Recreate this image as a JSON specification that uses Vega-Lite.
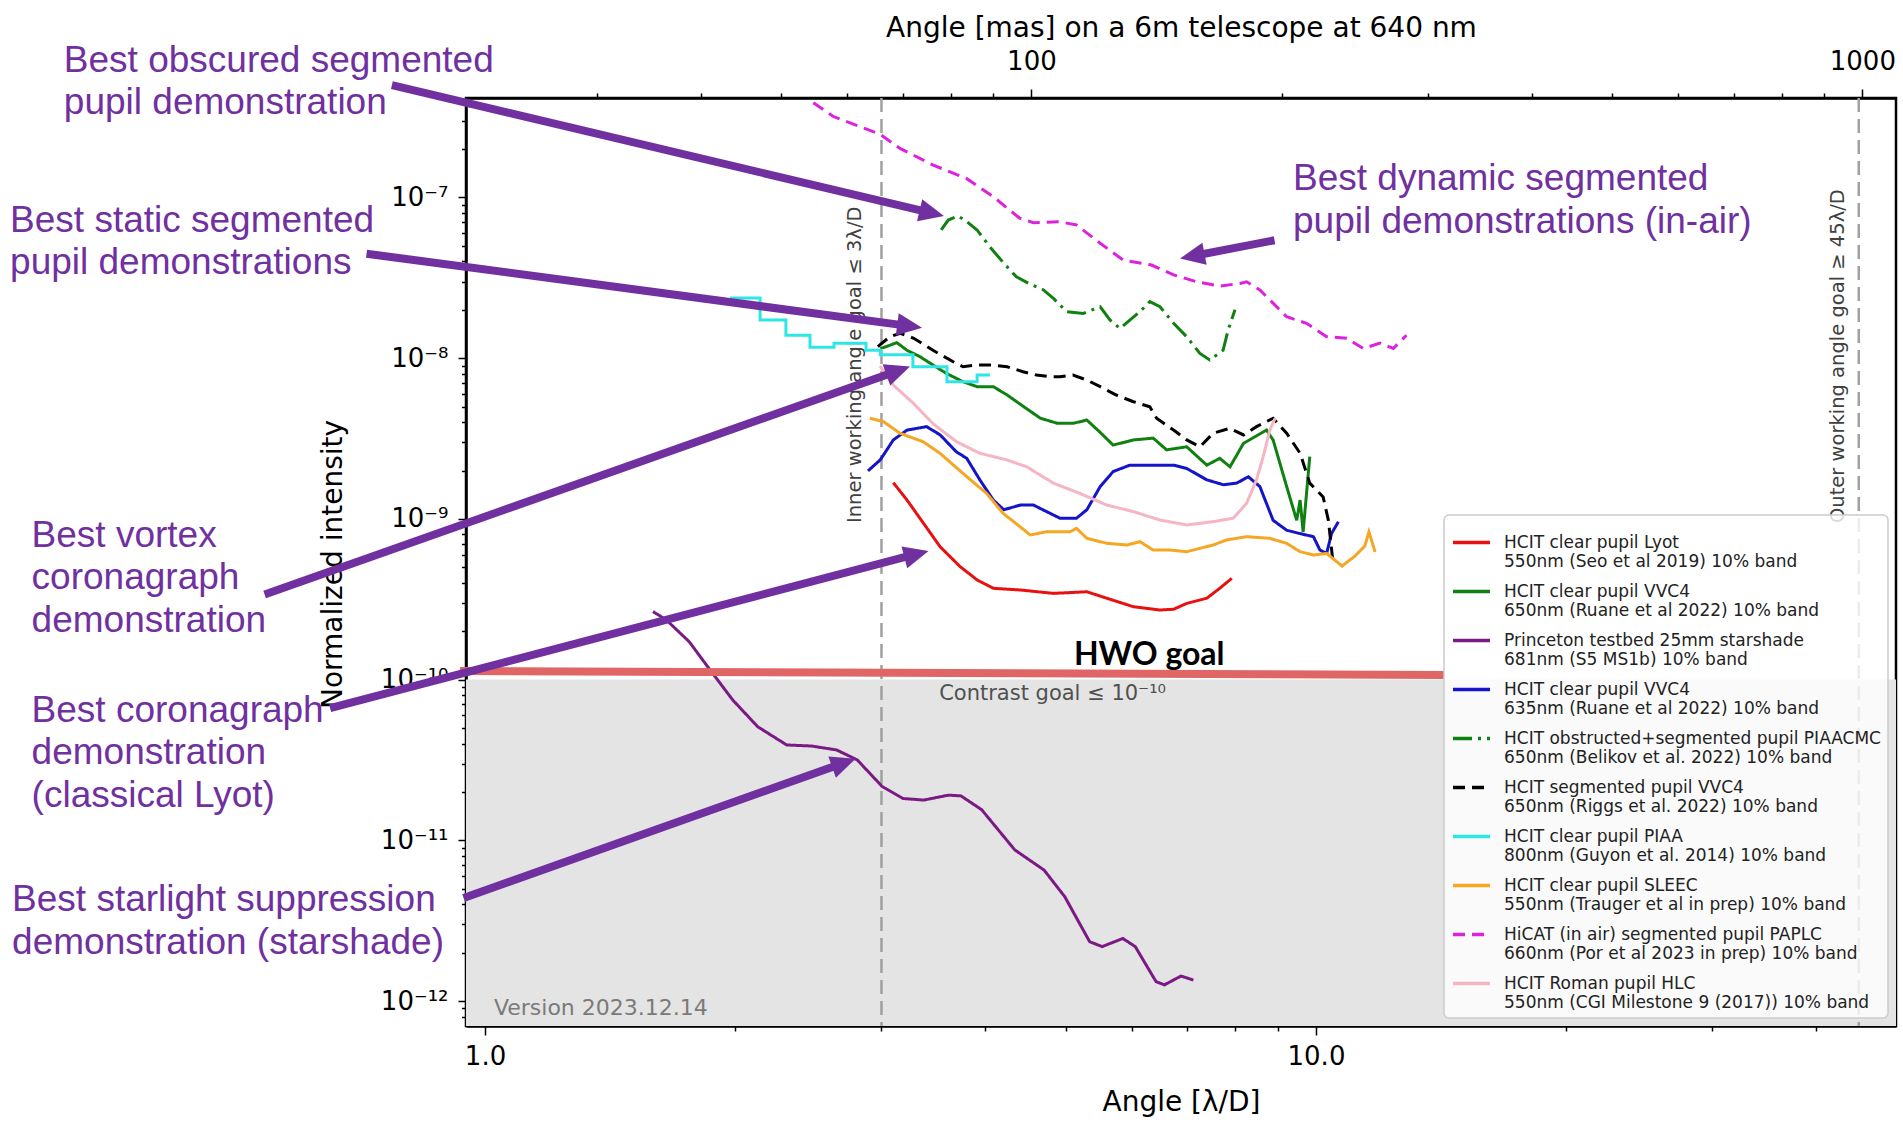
{
  "$schema": "https://vega.github.io/schema/vega-lite/v6.json",
  "width": 1430,
  "height": 928,
  "autosize": {"type": "none"},
  "padding": {"left": 466, "top": 98, "right": 7, "bottom": 98},
  "background": "white",
  "config": {
    "view": {"stroke": "black", "strokeWidth": 2.5},
    "font": "DejaVu Sans",
    "axis": {"grid": false, "domainColor": "black", "domainWidth": 2.5, "tickColor": "black", "tickWidth": 1.5, "labelColor": "black", "titleColor": "black", "labelFont": "DejaVu Sans", "titleFont": "DejaVu Sans", "labelFontSize": 26, "titleFontSize": 28, "titleFontWeight": "normal", "labelOverlap": false, "labelFlush": false, "labelBound": false},
    "legend": {"orient": "bottom-right", "offset": 8, "padding": 7, "fillColor": "rgba(255,255,255,0.8)", "strokeColor": "#cccccc", "strokeWidth": 1.5, "cornerRadius": 5, "symbolType": "stroke", "symbolSize": 1369, "symbolStrokeWidth": 3.5, "labelFont": "DejaVu Sans", "labelFontSize": 17, "labelColor": "#222222", "labelLimit": 1000, "labelOffset": 12, "rowPadding": 1, "labelBaseline": "middle"}
  },
  "datasets": {
    "curves": [
      {"s":"Lyot","x":3.10,"y":1.68e-9},{"s":"Lyot","x":3.22,"y":1.31e-9},{"s":"Lyot","x":3.37,"y":9.4e-10},{"s":"Lyot","x":3.53,"y":6.7e-10},{"s":"Lyot","x":3.73,"y":5.05e-10},{"s":"Lyot","x":3.91,"y":4.17e-10},{"s":"Lyot","x":4.09,"y":3.7e-10},{"s":"Lyot","x":4.41,"y":3.61e-10},{"s":"Lyot","x":4.83,"y":3.44e-10},{"s":"Lyot","x":5.30,"y":3.52e-10},{"s":"Lyot","x":5.60,"y":3.21e-10},{"s":"Lyot","x":6.03,"y":2.84e-10},{"s":"Lyot","x":6.49,"y":2.71e-10},{"s":"Lyot","x":6.74,"y":2.74e-10},{"s":"Lyot","x":6.99,"y":2.98e-10},{"s":"Lyot","x":7.39,"y":3.21e-10},{"s":"Lyot","x":7.66,"y":3.7e-10},{"s":"Lyot","x":7.92,"y":4.27e-10},
      {"s":"VVC4-650","x":2.99,"y":1.15e-8},{"s":"VVC4-650","x":3.04,"y":1.18e-8},{"s":"VVC4-650","x":3.13,"y":1.25e-8},{"s":"VVC4-650","x":3.22,"y":1.12e-8},{"s":"VVC4-650","x":3.34,"y":1.02e-8},{"s":"VVC4-650","x":3.46,"y":9.07e-9},{"s":"VVC4-650","x":3.59,"y":8.05e-9},{"s":"VVC4-650","x":3.76,"y":7.14e-9},{"s":"VVC4-650","x":3.91,"y":6.65e-9},{"s":"VVC4-650","x":4.09,"y":6.65e-9},{"s":"VVC4-650","x":4.25,"y":5.9e-9},{"s":"VVC4-650","x":4.45,"y":4.99e-9},{"s":"VVC4-650","x":4.66,"y":4.23e-9},{"s":"VVC4-650","x":4.88,"y":3.94e-9},{"s":"VVC4-650","x":5.11,"y":3.94e-9},{"s":"VVC4-650","x":5.30,"y":4.12e-9},{"s":"VVC4-650","x":5.50,"y":3.45e-9},{"s":"VVC4-650","x":5.70,"y":2.88e-9},{"s":"VVC4-650","x":6.03,"y":3.10e-9},{"s":"VVC4-650","x":6.37,"y":3.18e-9},{"s":"VVC4-650","x":6.61,"y":2.69e-9},{"s":"VVC4-650","x":6.99,"y":2.81e-9},{"s":"VVC4-650","x":7.39,"y":2.16e-9},{"s":"VVC4-650","x":7.66,"y":2.38e-9},{"s":"VVC4-650","x":7.88,"y":2.11e-9},{"s":"VVC4-650","x":8.18,"y":2.95e-9},{"s":"VVC4-650","x":8.72,"y":3.57e-9},{"s":"VVC4-650","x":8.88,"y":3.10e-9},{"s":"VVC4-650","x":9.22,"y":1.59e-9},{"s":"VVC4-650","x":9.48,"y":9.8e-10},{"s":"VVC4-650","x":9.57,"y":1.31e-9},{"s":"VVC4-650","x":9.65,"y":8.3e-10},{"s":"VVC4-650","x":9.83,"y":2.44e-9},
      {"s":"Starshade","x":1.593,"y":2.65e-10},{"s":"Starshade","x":1.653,"y":2.35e-10},{"s":"Starshade","x":1.761,"y":1.72e-10},{"s":"Starshade","x":1.854,"y":1.20e-10},{"s":"Starshade","x":1.987,"y":7.46e-11},{"s":"Starshade","x":2.129,"y":5.09e-11},{"s":"Starshade","x":2.307,"y":3.92e-11},{"s":"Starshade","x":2.472,"y":3.86e-11},{"s":"Starshade","x":2.649,"y":3.65e-11},{"s":"Starshade","x":2.806,"y":3.16e-11},{"s":"Starshade","x":3.006,"y":2.16e-11},{"s":"Starshade","x":3.184,"y":1.82e-11},{"s":"Starshade","x":3.373,"y":1.78e-11},{"s":"Starshade","x":3.613,"y":1.91e-11},{"s":"Starshade","x":3.739,"y":1.89e-11},{"s":"Starshade","x":3.96,"y":1.55e-11},{"s":"Starshade","x":4.341,"y":8.71e-12},{"s":"Starshade","x":4.707,"y":6.53e-12},{"s":"Starshade","x":4.985,"y":4.46e-12},{"s":"Starshade","x":5.341,"y":2.34e-12},{"s":"Starshade","x":5.529,"y":2.18e-12},{"s":"Starshade","x":5.855,"y":2.45e-12},{"s":"Starshade","x":6.061,"y":2.18e-12},{"s":"Starshade","x":6.42,"y":1.32e-12},{"s":"Starshade","x":6.57,"y":1.26e-12},{"s":"Starshade","x":6.88,"y":1.43e-12},{"s":"Starshade","x":7.12,"y":1.35e-12},
      {"s":"VVC4-635","x":2.89,"y":1.99e-9},{"s":"VVC4-635","x":2.99,"y":2.33e-9},{"s":"VVC4-635","x":3.10,"y":3.10e-9},{"s":"VVC4-635","x":3.22,"y":3.57e-9},{"s":"VVC4-635","x":3.40,"y":3.75e-9},{"s":"VVC4-635","x":3.53,"y":3.33e-9},{"s":"VVC4-635","x":3.69,"y":2.62e-9},{"s":"VVC4-635","x":3.80,"y":2.38e-9},{"s":"VVC4-635","x":3.94,"y":1.75e-9},{"s":"VVC4-635","x":4.09,"y":1.31e-9},{"s":"VVC4-635","x":4.21,"y":1.14e-9},{"s":"VVC4-635","x":4.41,"y":1.22e-9},{"s":"VVC4-635","x":4.57,"y":1.22e-9},{"s":"VVC4-635","x":4.74,"y":1.11e-9},{"s":"VVC4-635","x":4.92,"y":1.01e-9},{"s":"VVC4-635","x":5.15,"y":1.01e-9},{"s":"VVC4-635","x":5.30,"y":1.14e-9},{"s":"VVC4-635","x":5.50,"y":1.59e-9},{"s":"VVC4-635","x":5.70,"y":1.97e-9},{"s":"VVC4-635","x":5.97,"y":2.16e-9},{"s":"VVC4-635","x":6.37,"y":2.16e-9},{"s":"VVC4-635","x":6.74,"y":2.16e-9},{"s":"VVC4-635","x":6.99,"y":2.06e-9},{"s":"VVC4-635","x":7.39,"y":1.75e-9},{"s":"VVC4-635","x":7.74,"y":1.63e-9},{"s":"VVC4-635","x":8.03,"y":1.67e-9},{"s":"VVC4-635","x":8.29,"y":1.83e-9},{"s":"VVC4-635","x":8.56,"y":1.59e-9},{"s":"VVC4-635","x":8.88,"y":9.8e-10},{"s":"VVC4-635","x":9.22,"y":8.5e-10},{"s":"VVC4-635","x":9.57,"y":8.1e-10},{"s":"VVC4-635","x":9.93,"y":7.75e-10},{"s":"VVC4-635","x":10.11,"y":6.4e-10},{"s":"VVC4-635","x":10.30,"y":6.1e-10},{"s":"VVC4-635","x":10.44,"y":8.1e-10},{"s":"VVC4-635","x":10.64,"y":9.6e-10},
      {"s":"PIAACMC","x":3.54,"y":6.28e-8},{"s":"PIAACMC","x":3.61,"y":7.24e-8},{"s":"PIAACMC","x":3.71,"y":7.67e-8},{"s":"PIAACMC","x":3.80,"y":7.07e-8},{"s":"PIAACMC","x":3.91,"y":6.28e-8},{"s":"PIAACMC","x":4.05,"y":4.94e-8},{"s":"PIAACMC","x":4.21,"y":3.9e-8},{"s":"PIAACMC","x":4.36,"y":3.21e-8},{"s":"PIAACMC","x":4.51,"y":2.92e-8},{"s":"PIAACMC","x":4.70,"y":2.66e-8},{"s":"PIAACMC","x":4.83,"y":2.36e-8},{"s":"PIAACMC","x":5.01,"y":1.95e-8},{"s":"PIAACMC","x":5.25,"y":1.90e-8},{"s":"PIAACMC","x":5.50,"y":2.09e-8},{"s":"PIAACMC","x":5.65,"y":1.73e-8},{"s":"PIAACMC","x":5.81,"y":1.53e-8},{"s":"PIAACMC","x":6.14,"y":1.95e-8},{"s":"PIAACMC","x":6.31,"y":2.25e-8},{"s":"PIAACMC","x":6.49,"y":2.09e-8},{"s":"PIAACMC","x":6.74,"y":1.65e-8},{"s":"PIAACMC","x":6.99,"y":1.36e-8},{"s":"PIAACMC","x":7.25,"y":1.07e-8},{"s":"PIAACMC","x":7.45,"y":9.74e-9},{"s":"PIAACMC","x":7.73,"y":1.12e-8},{"s":"PIAACMC","x":7.84,"y":1.50e-8},{"s":"PIAACMC","x":7.99,"y":2.0e-8},
      {"s":"VVC4-seg","x":2.97,"y":1.18e-8},{"s":"VVC4-seg","x":3.07,"y":1.36e-8},{"s":"VVC4-seg","x":3.16,"y":1.43e-8},{"s":"VVC4-seg","x":3.28,"y":1.33e-8},{"s":"VVC4-seg","x":3.46,"y":1.12e-8},{"s":"VVC4-seg","x":3.66,"y":9.5e-9},{"s":"VVC4-seg","x":3.76,"y":8.85e-9},{"s":"VVC4-seg","x":3.91,"y":9.07e-9},{"s":"VVC4-seg","x":4.05,"y":9.07e-9},{"s":"VVC4-seg","x":4.25,"y":8.85e-9},{"s":"VVC4-seg","x":4.44,"y":8.24e-9},{"s":"VVC4-seg","x":4.61,"y":7.86e-9},{"s":"VVC4-seg","x":4.79,"y":7.67e-9},{"s":"VVC4-seg","x":4.92,"y":7.67e-9},{"s":"VVC4-seg","x":5.10,"y":7.86e-9},{"s":"VVC4-seg","x":5.30,"y":7.31e-9},{"s":"VVC4-seg","x":5.50,"y":6.65e-9},{"s":"VVC4-seg","x":5.75,"y":5.9e-9},{"s":"VVC4-seg","x":6.03,"y":5.36e-9},{"s":"VVC4-seg","x":6.31,"y":4.99e-9},{"s":"VVC4-seg","x":6.43,"y":4.23e-9},{"s":"VVC4-seg","x":6.74,"y":3.57e-9},{"s":"VVC4-seg","x":6.99,"y":3.10e-9},{"s":"VVC4-seg","x":7.25,"y":2.81e-9},{"s":"VVC4-seg","x":7.52,"y":3.41e-9},{"s":"VVC4-seg","x":7.88,"y":3.66e-9},{"s":"VVC4-seg","x":8.18,"y":3.33e-9},{"s":"VVC4-seg","x":8.48,"y":3.75e-9},{"s":"VVC4-seg","x":8.88,"y":4.23e-9},{"s":"VVC4-seg","x":9.22,"y":3.41e-9},{"s":"VVC4-seg","x":9.57,"y":2.56e-9},{"s":"VVC4-seg","x":9.83,"y":1.67e-9},{"s":"VVC4-seg","x":10.20,"y":1.37e-9},{"s":"VVC4-seg","x":10.35,"y":9.8e-10},{"s":"VVC4-seg","x":10.49,"y":5.2e-10},
      {"s":"PIAA","x":1.972,"y":2.37e-8},{"s":"PIAA","x":2.143,"y":1.73e-8},{"s":"PIAA","x":2.302,"y":1.39e-8},{"s":"PIAA","x":2.461,"y":1.17e-8},{"s":"PIAA","x":2.630,"y":1.24e-8},{"s":"PIAA","x":2.874,"y":1.12e-8},{"s":"PIAA","x":2.99,"y":1.05e-8},{"s":"PIAA","x":3.273,"y":8.84e-9},{"s":"PIAA","x":3.597,"y":7.14e-9},{"s":"PIAA","x":3.91,"y":7.86e-9},{"s":"PIAA","x":4.053,"y":7.86e-9},
      {"s":"SLEEC","x":2.906,"y":4.23e-9},{"s":"SLEEC","x":3.016,"y":4.03e-9},{"s":"SLEEC","x":3.158,"y":3.41e-9},{"s":"SLEEC","x":3.368,"y":3.02e-9},{"s":"SLEEC","x":3.528,"y":2.56e-9},{"s":"SLEEC","x":3.80,"y":1.83e-9},{"s":"SLEEC","x":4.015,"y":1.44e-9},{"s":"SLEEC","x":4.205,"y":1.08e-9},{"s":"SLEEC","x":4.405,"y":8.94e-10},{"s":"SLEEC","x":4.53,"y":7.94e-10},{"s":"SLEEC","x":4.74,"y":8.32e-10},{"s":"SLEEC","x":5.06,"y":8.32e-10},{"s":"SLEEC","x":5.15,"y":8.74e-10},{"s":"SLEEC","x":5.30,"y":7.57e-10},{"s":"SLEEC","x":5.60,"y":7.05e-10},{"s":"SLEEC","x":5.92,"y":6.88e-10},{"s":"SLEEC","x":6.14,"y":7.22e-10},{"s":"SLEEC","x":6.37,"y":6.4e-10},{"s":"SLEEC","x":6.67,"y":6.4e-10},{"s":"SLEEC","x":6.99,"y":6.25e-10},{"s":"SLEEC","x":7.25,"y":6.56e-10},{"s":"SLEEC","x":7.52,"y":6.88e-10},{"s":"SLEEC","x":7.81,"y":7.4e-10},{"s":"SLEEC","x":8.25,"y":7.75e-10},{"s":"SLEEC","x":8.80,"y":7.57e-10},{"s":"SLEEC","x":9.22,"y":7.05e-10},{"s":"SLEEC","x":9.57,"y":6.25e-10},{"s":"SLEEC","x":9.93,"y":5.96e-10},{"s":"SLEEC","x":10.30,"y":6.1e-10},{"s":"SLEEC","x":10.59,"y":5.42e-10},{"s":"SLEEC","x":10.75,"y":5.09e-10},{"s":"SLEEC","x":11.14,"y":5.87e-10},{"s":"SLEEC","x":11.45,"y":6.78e-10},{"s":"SLEEC","x":11.58,"y":8.3e-10},{"s":"SLEEC","x":11.78,"y":6.22e-10},
      {"s":"PAPLC","x":2.484,"y":3.89e-7},{"s":"PAPLC","x":2.625,"y":3.19e-7},{"s":"PAPLC","x":2.99,"y":2.47e-7},{"s":"PAPLC","x":3.158,"y":2.02e-7},{"s":"PAPLC","x":3.463,"y":1.59e-7},{"s":"PAPLC","x":3.80,"y":1.31e-7},{"s":"PAPLC","x":4.09,"y":1.01e-7},{"s":"PAPLC","x":4.40,"y":7.43e-8},{"s":"PAPLC","x":4.57,"y":6.97e-8},{"s":"PAPLC","x":4.92,"y":7.06e-8},{"s":"PAPLC","x":5.15,"y":6.74e-8},{"s":"PAPLC","x":5.50,"y":5.19e-8},{"s":"PAPLC","x":5.86,"y":4.08e-8},{"s":"PAPLC","x":6.34,"y":3.80e-8},{"s":"PAPLC","x":6.74,"y":3.30e-8},{"s":"PAPLC","x":7.18,"y":2.99e-8},{"s":"PAPLC","x":7.66,"y":2.81e-8},{"s":"PAPLC","x":8.10,"y":2.92e-8},{"s":"PAPLC","x":8.25,"y":2.99e-8},{"s":"PAPLC","x":8.56,"y":2.66e-8},{"s":"PAPLC","x":8.88,"y":2.20e-8},{"s":"PAPLC","x":9.22,"y":1.81e-8},{"s":"PAPLC","x":9.74,"y":1.65e-8},{"s":"PAPLC","x":10.30,"y":1.36e-8},{"s":"PAPLC","x":10.89,"y":1.33e-8},{"s":"PAPLC","x":11.40,"y":1.15e-8},{"s":"PAPLC","x":11.94,"y":1.24e-8},{"s":"PAPLC","x":12.39,"y":1.15e-8},{"s":"PAPLC","x":12.85,"y":1.39e-8},
      {"s":"HLC","x":2.988,"y":8.94e-9},{"s":"HLC","x":3.099,"y":6.81e-9},{"s":"HLC","x":3.277,"y":5.24e-9},{"s":"HLC","x":3.463,"y":3.90e-9},{"s":"HLC","x":3.694,"y":3.02e-9},{"s":"HLC","x":3.94,"y":2.56e-9},{"s":"HLC","x":4.245,"y":2.33e-9},{"s":"HLC","x":4.486,"y":2.11e-9},{"s":"HLC","x":4.83,"y":1.67e-9},{"s":"HLC","x":5.20,"y":1.44e-9},{"s":"HLC","x":5.60,"y":1.22e-9},{"s":"HLC","x":6.03,"y":1.11e-9},{"s":"HLC","x":6.49,"y":9.84e-10},{"s":"HLC","x":6.99,"y":9.17e-10},{"s":"HLC","x":7.52,"y":9.61e-10},{"s":"HLC","x":7.95,"y":1.01e-9},{"s":"HLC","x":8.25,"y":1.25e-9},{"s":"HLC","x":8.48,"y":1.75e-9},{"s":"HLC","x":8.64,"y":2.44e-9},{"s":"HLC","x":8.80,"y":3.57e-9},{"s":"HLC","x":8.93,"y":4.23e-9}
    ],
    "arrows": [
      {"id":"A1","x0":0.7726,"y0":5.01e-7,"x1":3.453,"y1":7.99e-8,"tx":3.567,"ty":7.67e-8},
      {"id":"A2","x0":0.7202,"y0":4.47e-8,"x1":3.248,"y1":1.584e-8,"tx":3.357,"ty":1.548e-8},
      {"id":"A3","x0":8.915,"y0":5.42e-8,"x1":7.088,"y1":4.31e-8,"tx":6.860,"ty":4.17e-8},
      {"id":"A4","x0":0.5430,"y0":3.38e-10,"x1":3.147,"y1":8.39e-9,"tx":3.247,"ty":8.88e-9},
      {"id":"A5","x0":0.6510,"y0":6.65e-11,"x1":3.309,"y1":6.05e-10,"tx":3.418,"ty":6.31e-10},
      {"id":"A6","x0":0.9424,"y0":4.37e-12,"x1":2.707,"y1":3.04e-11,"tx":2.793,"ty":3.22e-11}
    ],
    "notes": [
      {"note":"Best obscured segmented|pupil demonstration","x":0.3113,"y":6.04e-7},
      {"note":"Best static segmented|pupil demonstrations","x":0.2682,"y":6.10e-8},
      {"note":"Best dynamic segmented|pupil demonstrations (in-air)","x":9.383,"y":1.113e-7},
      {"note":"Best vortex|coronagraph|demonstration","x":0.2847,"y":6.73e-10},
      {"note":"Best coronagraph|demonstration|(classical Lyot)","x":0.2847,"y":5.45e-11},
      {"note":"Best starlight suppression|demonstration (starshade)","x":0.2697,"y":3.63e-12}
    ]
  },
  "layer": [
    {
      "layer": [
        {
          "data": {"values": [{"xlo": 0.5, "xhi": 60, "floor": 1e-13, "goal": 1e-10}]},
          "mark": {"type": "rect", "color": "#e4e4e4", "clip": true},
          "encoding": {
            "x": {"field": "xlo", "type": "quantitative", "scale": {"type": "log", "domain": [0.9487, 49.89], "nice": false},
              "axis": {"title": "Angle [λ/D]", "values": [1,2,3,4,5,6,7,8,9,10,20,30,40], "labelExpr": "datum.value == 1 ? '1.0' : datum.value == 10 ? '10.0' : ''", "tickSize": {"condition": {"test": "datum.value == 1 || datum.value == 10", "value": 9}, "value": 5}, "labelPadding": 8, "titleY": 84, "titleBaseline": "alphabetic"}},
            "x2": {"field": "xhi"},
            "y": {"field": "goal", "type": "quantitative", "scale": {"type": "log", "domain": [6.99e-13, 4.16e-7], "nice": false},
              "axis": {"title": "Normalized intensity", "values": [8e-13,9e-13,1e-12,2e-12,3e-12,4e-12,5e-12,6e-12,7e-12,8e-12,9e-12,1e-11,2e-11,3e-11,4e-11,5e-11,6e-11,7e-11,8e-11,9e-11,1e-10,2e-10,3e-10,4e-10,5e-10,6e-10,7e-10,8e-10,9e-10,1e-9,2e-9,3e-9,4e-9,5e-9,6e-9,7e-9,8e-9,9e-9,1e-8,2e-8,3e-8,4e-8,5e-8,6e-8,7e-8,8e-8,9e-8,1e-7,2e-7,3e-7,4e-7],
                "labelExpr": "datum.value == 1e-7 ? '10⁻⁷' : datum.value == 1e-8 ? '10⁻⁸' : datum.value == 1e-9 ? '10⁻⁹' : datum.value == 1e-10 ? '10⁻¹⁰' : datum.value == 1e-11 ? '10⁻¹¹' : datum.value == 1e-12 ? '10⁻¹²' : ''",
                "tickSize": {"condition": {"test": "indexof([1e-7,1e-8,1e-9,1e-10,1e-11,1e-12], datum.value) >= 0", "value": 8}, "value": 4.5},
                "labelPadding": 10, "titleX": -125, "titleY": 466, "titleBaseline": "alphabetic"}},
            "y2": {"field": "floor"}
          }
        },
        {
          "data": {"values": [{"angle": 3}, {"angle": 45}]},
          "mark": {"type": "rule", "color": "#a0a0a0", "strokeDash": [14, 7], "strokeWidth": 2.5},
          "encoding": {"x": {"field": "angle", "type": "quantitative"}}
        },
        {
          "data": {"values": [{"angle": 2.834, "level": 9.43e-10, "note": "Inner working angle goal  ≤ 3λ/D"}, {"angle": 43.19, "level": 9.43e-10, "note": "Outer working angle goal  ≥ 45λ/D"}]},
          "mark": {"type": "text", "angle": 270, "align": "left", "baseline": "alphabetic", "font": "DejaVu Sans", "fontSize": 19.5, "color": "#404040"},
          "encoding": {"x": {"field": "angle", "type": "quantitative"}, "y": {"field": "level", "type": "quantitative"}, "text": {"field": "note"}}
        },
        {
          "data": {"name": "curves"},
          "transform": [{"filter": "datum.s != 'PIAA'"}],
          "mark": {"type": "line", "strokeWidth": 3, "clip": true},
          "encoding": {
            "x": {"field": "x", "type": "quantitative"},
            "y": {"field": "y", "type": "quantitative"},
            "color": {"field": "s", "type": "nominal",
              "scale": {"domain": ["Lyot","VVC4-650","Starshade","VVC4-635","PIAACMC","VVC4-seg","PIAA","SLEEC","PAPLC","HLC"], "range": ["#e81010","#108010","#7b1a84","#1414c8","#108010","#000000","#2ee6e6","#f5a623","#dd22dd","#f5b5c3"]},
              "legend": {"title": null, "labelExpr": "datum.label == 'Lyot' ? ['HCIT clear pupil Lyot', '550nm (Seo et al 2019) 10% band'] : datum.label == 'VVC4-650' ? ['HCIT clear pupil VVC4', '650nm (Ruane et al 2022) 10% band'] : datum.label == 'Starshade' ? ['Princeton testbed 25mm starshade', '681nm (S5 MS1b) 10% band'] : datum.label == 'VVC4-635' ? ['HCIT clear pupil VVC4', '635nm (Ruane et al 2022) 10% band'] : datum.label == 'PIAACMC' ? ['HCIT obstructed+segmented pupil PIAACMC', '650nm (Belikov et al. 2022) 10% band'] : datum.label == 'VVC4-seg' ? ['HCIT segmented pupil VVC4', '650nm (Riggs et al. 2022) 10% band'] : datum.label == 'PIAA' ? ['HCIT clear pupil PIAA', '800nm (Guyon et al. 2014) 10% band'] : datum.label == 'SLEEC' ? ['HCIT clear pupil SLEEC', '550nm (Trauger et al in prep) 10% band'] : datum.label == 'PAPLC' ? ['HiCAT (in air) segmented pupil PAPLC', '660nm (Por et al 2023 in prep) 10% band'] : ['HCIT Roman pupil HLC', '550nm (CGI Milestone 9 (2017)) 10% band']"}},
            "strokeDash": {"field": "s", "type": "nominal",
              "scale": {"domain": ["Lyot","VVC4-650","Starshade","VVC4-635","PIAACMC","VVC4-seg","PIAA","SLEEC","PAPLC","HLC"], "range": [[1,0],[1,0],[1,0],[1,0],[19,6,3,6],[12,7],[1,0],[1,0],[12,7],[1,0]]},
              "legend": {"title": null, "labelExpr": "datum.label == 'Lyot' ? ['HCIT clear pupil Lyot', '550nm (Seo et al 2019) 10% band'] : datum.label == 'VVC4-650' ? ['HCIT clear pupil VVC4', '650nm (Ruane et al 2022) 10% band'] : datum.label == 'Starshade' ? ['Princeton testbed 25mm starshade', '681nm (S5 MS1b) 10% band'] : datum.label == 'VVC4-635' ? ['HCIT clear pupil VVC4', '635nm (Ruane et al 2022) 10% band'] : datum.label == 'PIAACMC' ? ['HCIT obstructed+segmented pupil PIAACMC', '650nm (Belikov et al. 2022) 10% band'] : datum.label == 'VVC4-seg' ? ['HCIT segmented pupil VVC4', '650nm (Riggs et al. 2022) 10% band'] : datum.label == 'PIAA' ? ['HCIT clear pupil PIAA', '800nm (Guyon et al. 2014) 10% band'] : datum.label == 'SLEEC' ? ['HCIT clear pupil SLEEC', '550nm (Trauger et al in prep) 10% band'] : datum.label == 'PAPLC' ? ['HiCAT (in air) segmented pupil PAPLC', '660nm (Por et al 2023 in prep) 10% band'] : ['HCIT Roman pupil HLC', '550nm (CGI Milestone 9 (2017)) 10% band']"}}
          }
        },
        {
          "data": {"name": "curves"},
          "transform": [{"filter": "datum.s == 'PIAA'"}],
          "mark": {"type": "line", "strokeWidth": 3, "interpolate": "step-after", "clip": true},
          "encoding": {
            "x": {"field": "x", "type": "quantitative"},
            "y": {"field": "y", "type": "quantitative"},
            "color": {"field": "s", "type": "nominal"},
            "strokeDash": {"field": "s", "type": "nominal"}
          }
        },
        {
          "data": {"values": [{"x0": 0.933, "y0": 1.131e-10, "x1": 14.26, "y1": 1.068e-10}]},
          "mark": {"type": "rule", "color": "#e06666", "strokeWidth": 8},
          "encoding": {"x": {"field": "x0", "type": "quantitative"}, "y": {"field": "y0", "type": "quantitative"}, "x2": {"field": "x1"}, "y2": {"field": "y1"}}
        },
        {
          "data": {"values": [{"x": 6.30, "y": 1.233e-10, "t": "HWO goal"}]},
          "mark": {"type": "text", "align": "center", "baseline": "alphabetic", "font": "Lato", "fontWeight": "bold", "fontSize": 32, "color": "black"},
          "encoding": {"x": {"field": "x", "type": "quantitative"}, "y": {"field": "y", "type": "quantitative"}, "text": {"field": "t"}}
        },
        {
          "data": {"values": [{"x": 3.52, "y": 7.46e-11, "t": "Contrast goal  ≤ 10⁻¹⁰"}]},
          "mark": {"type": "text", "align": "left", "baseline": "alphabetic", "font": "DejaVu Sans", "fontSize": 21, "color": "#505050"},
          "encoding": {"x": {"field": "x", "type": "quantitative"}, "y": {"field": "y", "type": "quantitative"}, "text": {"field": "t"}}
        },
        {
          "data": {"values": [{"x": 1.025, "y": 8.18e-13, "t": "Version 2023.12.14"}]},
          "mark": {"type": "text", "align": "left", "baseline": "alphabetic", "font": "DejaVu Sans", "fontSize": 22, "color": "#7a7a7a"},
          "encoding": {"x": {"field": "x", "type": "quantitative"}, "y": {"field": "y", "type": "quantitative"}, "text": {"field": "t"}}
        },
        {
          "data": {"name": "notes"},
          "mark": {"type": "text", "align": "left", "baseline": "alphabetic", "font": "Liberation Sans", "fontSize": 37, "lineBreak": "|", "lineHeight": 42.5, "color": "#7030a0"},
          "encoding": {"x": {"field": "x", "type": "quantitative"}, "y": {"field": "y", "type": "quantitative"}, "text": {"field": "note"}}
        },
        {
          "data": {"name": "arrows"},
          "mark": {"type": "rule", "color": "#7030a0", "strokeWidth": 8, "strokeCap": "butt"},
          "encoding": {"x": {"field": "x0", "type": "quantitative"}, "y": {"field": "y0", "type": "quantitative"}, "x2": {"field": "x1"}, "y2": {"field": "y1"}}
        },
        {"data": {"name": "arrows"}, "transform": [{"filter": "datum.id == 'A1'"}], "mark": {"type": "point", "shape": "M0,0L-1,-0.45L-1,0.45Z", "filled": true, "size": 2500, "angle": 13.35, "color": "#7030a0", "opacity": 1, "strokeWidth": 0}, "encoding": {"x": {"field": "tx", "type": "quantitative"}, "y": {"field": "ty", "type": "quantitative"}}},
        {"data": {"name": "arrows"}, "transform": [{"filter": "datum.id == 'A2'"}], "mark": {"type": "point", "shape": "M0,0L-1,-0.45L-1,0.45Z", "filled": true, "size": 2500, "angle": 7.59, "color": "#7030a0", "opacity": 1, "strokeWidth": 0}, "encoding": {"x": {"field": "tx", "type": "quantitative"}, "y": {"field": "ty", "type": "quantitative"}}},
        {"data": {"name": "arrows"}, "transform": [{"filter": "datum.id == 'A3'"}], "mark": {"type": "point", "shape": "M0,0L-1,-0.45L-1,0.45Z", "filled": true, "size": 2500, "angle": 169.1, "color": "#7030a0", "opacity": 1, "strokeWidth": 0}, "encoding": {"x": {"field": "tx", "type": "quantitative"}, "y": {"field": "ty", "type": "quantitative"}}},
        {"data": {"name": "arrows"}, "transform": [{"filter": "datum.id == 'A4'"}], "mark": {"type": "point", "shape": "M0,0L-1,-0.45L-1,0.45Z", "filled": true, "size": 2500, "angle": -19.47, "color": "#7030a0", "opacity": 1, "strokeWidth": 0}, "encoding": {"x": {"field": "tx", "type": "quantitative"}, "y": {"field": "ty", "type": "quantitative"}}},
        {"data": {"name": "arrows"}, "transform": [{"filter": "datum.id == 'A5'"}], "mark": {"type": "point", "shape": "M0,0L-1,-0.45L-1,0.45Z", "filled": true, "size": 2500, "angle": -14.7, "color": "#7030a0", "opacity": 1, "strokeWidth": 0}, "encoding": {"x": {"field": "tx", "type": "quantitative"}, "y": {"field": "ty", "type": "quantitative"}}},
        {"data": {"name": "arrows"}, "transform": [{"filter": "datum.id == 'A6'"}], "mark": {"type": "point", "shape": "M0,0L-1,-0.45L-1,0.45Z", "filled": true, "size": 2500, "angle": -19.57, "color": "#7030a0", "opacity": 1, "strokeWidth": 0}, "encoding": {"x": {"field": "tx", "type": "quantitative"}, "y": {"field": "ty", "type": "quantitative"}}}
      ]
    },
    {
      "data": {"values": [{"mas": 100}]},
      "mark": {"type": "rule", "opacity": 0},
      "encoding": {
        "x": {"field": "mas", "type": "quantitative", "scale": {"type": "log", "domain": [20.873, 1097.7], "nice": false},
          "axis": {"orient": "top", "title": "Angle [mas] on a 6m telescope at 640 nm", "values": [30,40,50,60,70,80,90,100,200,300,400,500,600,700,800,900,1000], "labelExpr": "datum.value == 100 ? '100' : datum.value == 1000 ? '1000' : ''", "tickSize": {"condition": {"test": "datum.value == 100 || datum.value == 1000", "value": 9}, "value": 5}, "labelPadding": 15, "titleY": -62, "titleBaseline": "alphabetic"}}
      }
    }
  ],
  "resolve": {"scale": {"x": "independent"}, "axis": {"x": "independent"}}
}
